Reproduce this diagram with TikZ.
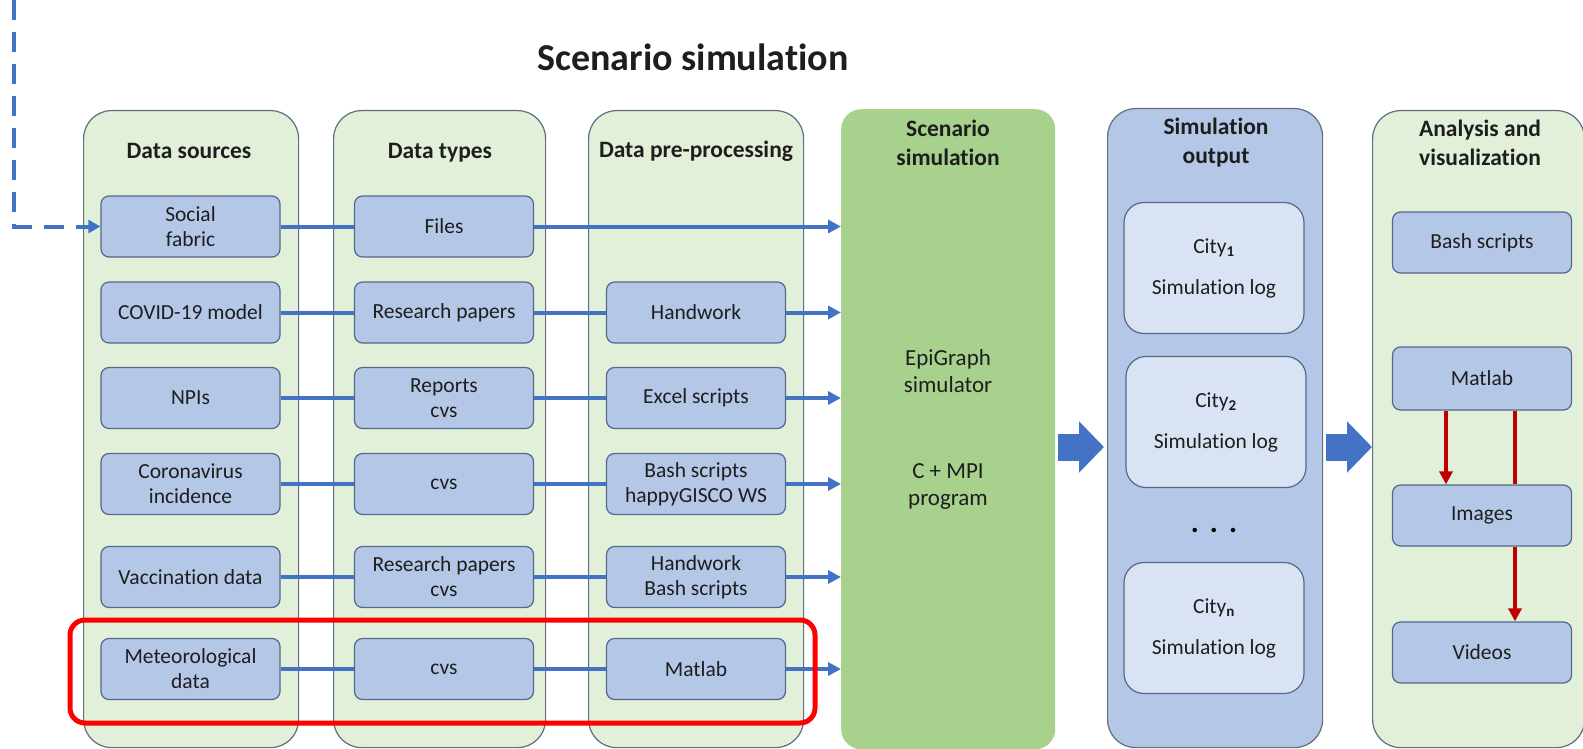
\documentclass[tikz,border=0pt]{standalone}
\usepackage{fontspec}
\setmainfont{Carlito}[Ligatures=NoCommon]
\usetikzlibrary{arrows.meta}
\definecolor{colfill}{HTML}{E2EFD9}
\definecolor{colborder}{HTML}{5F6F7E}
\definecolor{boxfill}{HTML}{B4C7E7}
\definecolor{boxborder}{HTML}{52698A}
\definecolor{simgreen}{HTML}{A9D18E}
\definecolor{lineblue}{HTML}{4472C4}
\definecolor{cityfill}{HTML}{DAE3F3}
\definecolor{darkred}{HTML}{C00000}
\definecolor{txt}{HTML}{1E1E1E}
\begin{document}
\begin{tikzpicture}[x=1pt,y=-1pt,
  colbox/.style={draw=colborder, line width=1.2pt, fill=colfill, rounded corners=28pt, anchor=north west, inner sep=0pt},
  item/.style={draw=boxborder, line width=1.2pt, fill=boxfill, rounded corners=8pt, minimum width=179pt, minimum height=61pt, inner sep=2pt, align=center, font=\fontsize{21.5}{25}\selectfont, text=txt},
  city/.style={draw=boxborder, line width=1.2pt, fill=cityfill, rounded corners=20pt, minimum width=180pt, minimum height=131pt, inner sep=2pt, align=center, font=\fontsize{21.5}{41}\selectfont, text=txt},
  hdr/.style={font=\bfseries\fontsize{23.5}{29}\selectfont, align=center, text=txt},
  simtext/.style={font=\fontsize{23}{27}\selectfont, align=center, text=txt},
  flow/.style={draw=lineblue, line width=4pt},
  flowarrow/.style={flow, -{Triangle[length=13pt,width=13pt]}},
  redline/.style={draw=darkred, line width=4pt},
  redarrow/.style={redline, -{Triangle[length=13pt,width=13pt]}},
  bigarrow/.style={draw=lineblue, line width=27pt, -{Triangle[length=25pt,width=50pt]}},
  dashline/.style={draw=lineblue, line width=4pt, dash pattern=on 20pt off 12pt},
]
\useasboundingbox (0,0) rectangle (1583,749);
\fill[white] (0,0) rectangle (1583,749);

% title
\node[font=\bfseries\fontsize{38}{42}\selectfont, text=txt] (title) at (693,57) {Scenario simulation};

% columns
\node[colbox, minimum width=215pt, minimum height=637pt] (c1) at (83,110) {};
\node[colbox, minimum width=212pt, minimum height=637pt] (c2) at (333,110) {};
\node[colbox, minimum width=215pt, minimum height=637pt] (c3) at (588,110) {};
\node[fill=simgreen, rounded corners=20pt, anchor=north west, inner sep=0pt, minimum width=214pt, minimum height=640pt] (sim) at (841,109) {};
\node[colbox, fill=boxfill, minimum width=215pt, minimum height=639pt] (out) at (1107,108) {};
\node[colbox, minimum width=212pt, minimum height=637pt] (ana) at (1372,110) {};

% headers
\node[hdr] (h1) at (189,151) {Data sources};
\node[hdr] (h2) at (440,153) {Data types};
\node[hdr] (h3) at (696,151) {Data pre-processing};
\node[hdr] (h4) at (948,143) {Scenario\\simulation};
\node[hdr] (h5) at (1216,143) {Simulation\\output};
\node[hdr] (h6) at (1480,143) {Analysis and\\visualization};

% data sources
\node[item] (s1) at (190.5,226.5) {Social\\fabric};
\node[item] (s2) at (190.5,312.5) {COVID-19 model};
\node[item] (s3) at (190.5,398) {NPIs};
\node[item] (s4) at (190.5,484) {Coronavirus\\incidence};
\node[item] (s5) at (190.5,577) {Vaccination data};
\node[item] (s6) at (190.5,669) {Meteorological\\data};

% data types
\node[item] (t1) at (444,226.5) {Files};
\node[item] (t2) at (444,312.5) {Research papers};
\node[item] (t3) at (444,398) {Reports\\cvs};
\node[item] (t4) at (444,484) {cvs};
\node[item] (t5) at (444,577) {Research papers\\cvs};
\node[item] (t6) at (444,669) {cvs};

% pre-processing
\node[item] (p2) at (696,312.5) {Handwork};
\node[item] (p3) at (696,398) {Excel scripts};
\node[item] (p4) at (696,484) {Bash scripts\\happyGISCO WS};
\node[item] (p5) at (696,577) {Handwork\\Bash scripts};
\node[item] (p6) at (696,669) {Matlab};

% simulator text
\node[simtext] (epi) at (948,371.5) {EpiGraph\\simulator};
\node[simtext] (mpi) at (948,486.5) {C + MPI\\program};

% connectors
\draw[flow] (s1) -- (t1);
\draw[flowarrow] (t1) -- (sim.west |- t1);
\foreach \i in {2,...,6}{
  \draw[flow] (s\i) -- (t\i);
  \draw[flow] (t\i) -- (p\i);
  \draw[flowarrow] (p\i) -- (sim.west |- p\i);
}

% dashed input
\coordinate (dtop) at (14,0);
\draw[dashline, -{Triangle[length=12pt,width=13pt]}] (dtop) -- (dtop |- s1.west) -- (s1.west);

% simulation output
\node[city] (o1) at (1214,268) {City\textsubscript{\bfseries 1}\\Simulation log};
\node[city] (o2) at (1216,422) {City\textsubscript{\bfseries 2}\\Simulation log};
\node[city] (o3) at (1214,628) {City\textsubscript{\bfseries n}\\Simulation log};
\node[font=\bfseries\fontsize{30}{30}\selectfont, text=black] (dots) at (1214,530) {.\hspace{11pt}.\hspace{11pt}.};

% analysis
\node[item] (a1) at (1482,242.5) {Bash scripts};
\node[item, minimum height=63pt] (a2) at (1482,378.5) {Matlab};
\node[item] (a3) at (1482,515.5) {Images};
\node[item] (a4) at (1482,652.5) {Videos};
\draw[redarrow] ([xshift=-36pt]a2.south) -- ([xshift=-36pt]a3.north);
\draw[redline] ([xshift=33pt]a2.south) -- ([xshift=33pt]a3.north);
\draw[redarrow] ([xshift=33pt]a3.south) -- ([xshift=33pt]a4.north);

% big arrows
\path (sim.east |- 0,447) coordinate (b1s);
\path (out.west |- 0,447) coordinate (b1e);
\path (out.east |- 0,447) coordinate (b2s);
\path (ana.west |- 0,447) coordinate (b2e);
\draw[bigarrow] ([xshift=3pt]b1s) -- ([xshift=-3pt]b1e);
\draw[bigarrow] ([xshift=3pt]b2s) -- ([xshift=0pt]b2e);

% highlight
\node[draw=red, line width=5pt, rounded corners=15pt, minimum width=745pt, minimum height=103pt, inner sep=0pt] (hl) at (442.5,671.5) {};
\end{tikzpicture}
\end{document}
